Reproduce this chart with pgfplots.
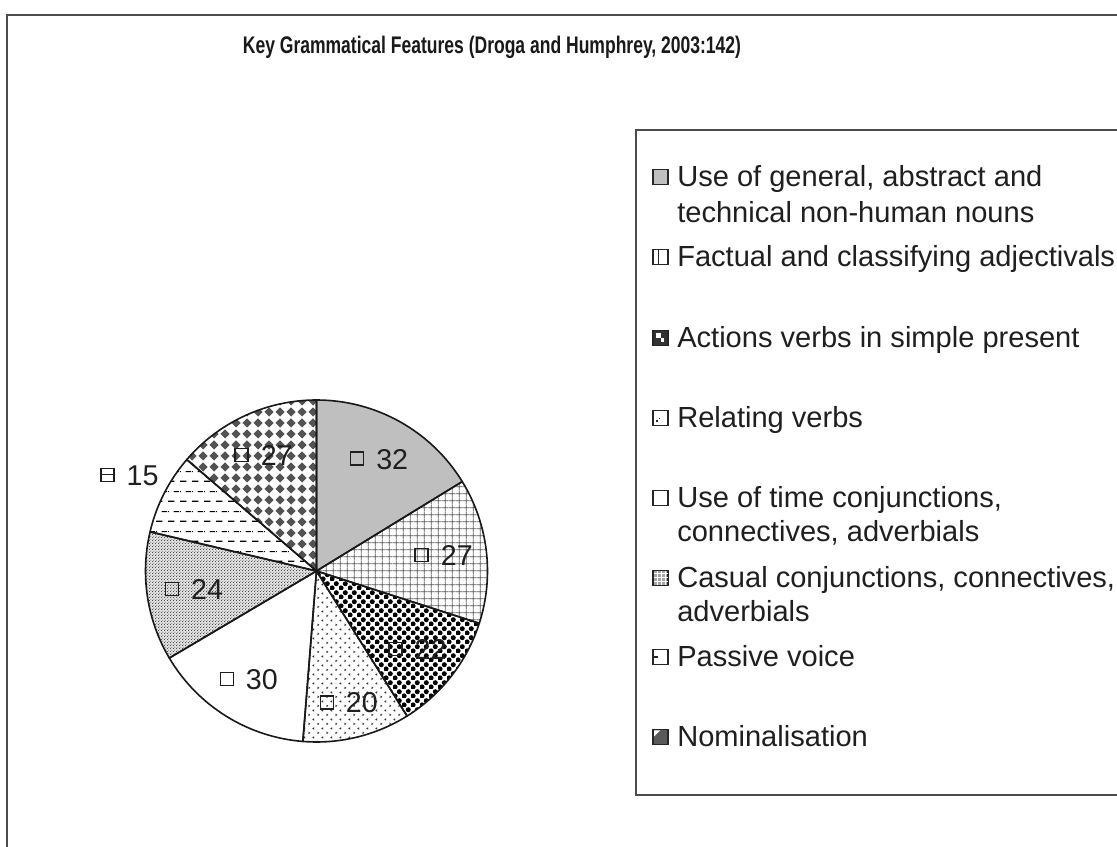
\documentclass[border=0pt]{standalone}
\usepackage{fontspec}
\setmainfont{Liberation Sans}
\newfontfamily\tfont{Liberation Sans}[FakeStretch=0.73]
\usepackage{pgfplots}
\pgfplotsset{compat=1.18}
\usepackage{pgfplotstable}
\usetikzlibrary{patterns}

\pgfdeclarepatternformonly{pgrid}{\pgfqpoint{0pt}{0pt}}{\pgfqpoint{5.4pt}{5.4pt}}{\pgfqpoint{5.4pt}{5.4pt}}{%
 \pgfsetlinewidth{0.75pt}%
 \pgfpathmoveto{\pgfqpoint{0pt}{2.7pt}}\pgfpathlineto{\pgfqpoint{5.4pt}{2.7pt}}%
 \pgfpathmoveto{\pgfqpoint{2.7pt}{0pt}}\pgfpathlineto{\pgfqpoint{2.7pt}{5.4pt}}%
 \pgfusepath{stroke}}
\pgfdeclarepatternformonly{pcirc}{\pgfqpoint{0pt}{0pt}}{\pgfqpoint{6.5pt}{6.5pt}}{\pgfqpoint{6.5pt}{6.5pt}}{%
 \pgfpathcircle{\pgfqpoint{1.625pt}{1.625pt}}{1.95pt}%
 \pgfpathcircle{\pgfqpoint{4.875pt}{4.875pt}}{1.95pt}%
 \pgfusepath{fill}}
\pgfdeclarepatternformonly{pchev}{\pgfqpoint{0pt}{0pt}}{\pgfqpoint{7pt}{7pt}}{\pgfqpoint{7pt}{7pt}}{%
 \pgfsetlinewidth{0.6pt}%
 \pgfpathmoveto{\pgfqpoint{1.2pt}{2.4pt}}\pgfpathlineto{\pgfqpoint{2.2pt}{1.75pt}}\pgfpathlineto{\pgfqpoint{1.2pt}{1.1pt}}%
 \pgfpathmoveto{\pgfqpoint{5.7pt}{5.9pt}}\pgfpathlineto{\pgfqpoint{4.7pt}{5.25pt}}\pgfpathlineto{\pgfqpoint{5.7pt}{4.6pt}}%
 \pgfusepath{stroke}}
\pgfdeclarepatternformonly{pfine}{\pgfqpoint{0pt}{0pt}}{\pgfqpoint{2.4pt}{2.4pt}}{\pgfqpoint{2.4pt}{2.4pt}}{%
 \pgfpathrectangle{\pgfqpoint{0pt}{0pt}}{\pgfqpoint{0.8pt}{0.8pt}}%
 \pgfpathrectangle{\pgfqpoint{1.2pt}{1.2pt}}{\pgfqpoint{0.8pt}{0.8pt}}%
 \pgfusepath{fill}}
\pgfdeclarepatternformonly{pdash}{\pgfqpoint{0pt}{0pt}}{\pgfqpoint{9pt}{15pt}}{\pgfqpoint{9pt}{15pt}}{%
 \pgfsetlinewidth{0.9pt}%
 \pgfpathmoveto{\pgfqpoint{0pt}{3.75pt}}\pgfpathlineto{\pgfqpoint{5.25pt}{3.75pt}}%
 \pgfpathmoveto{\pgfqpoint{4.5pt}{11.25pt}}\pgfpathlineto{\pgfqpoint{9pt}{11.25pt}}%
 \pgfpathmoveto{\pgfqpoint{0pt}{11.25pt}}\pgfpathlineto{\pgfqpoint{0.75pt}{11.25pt}}%
 \pgfusepath{stroke}}
\pgfdeclarepatternformonly{pdiam}{\pgfqpoint{0pt}{0pt}}{\pgfqpoint{8.25pt}{8.25pt}}{\pgfqpoint{8.25pt}{8.25pt}}{%
 \pgfpathmoveto{\pgfqpoint{4.125pt}{0.4pt}}\pgfpathlineto{\pgfqpoint{7.85pt}{4.125pt}}\pgfpathlineto{\pgfqpoint{4.125pt}{7.85pt}}\pgfpathlineto{\pgfqpoint{0.4pt}{4.125pt}}\pgfpathclose
 \pgfusepath{fill}}

\tikzset{
 slice0/.style={fill=black!25},
 slice1/.style={fill=white, postaction={pattern=pgrid, pattern color=black!65}},
 slice2/.style={fill=white, postaction={pattern=pcirc, pattern color=black}},
 slice3/.style={fill=white, postaction={pattern=pchev, pattern color=black!80}},
 slice4/.style={fill=white},
 slice5/.style={fill=black!12, postaction={pattern=pfine, pattern color=black!70}},
 slice6/.style={fill=white, postaction={pattern=pdash, pattern color=black}},
 slice7/.style={fill=white, postaction={pattern=pdiam, pattern color=black!68}},
 lbl/.style={inner sep=0pt, font=\fontsize{21.5}{26}\selectfont, text=black!88},
 legt/.style={anchor=base west, inner sep=0pt, font=\fontsize{21.8}{26}\selectfont, text=black!88},
 sw/.style={line width=1.1pt, draw=black!85},
}
\newcommand\lsq{\raisebox{3.6pt}{\setlength{\fboxsep}{0pt}\setlength{\fboxrule}{1.1pt}\fbox{\rule{0pt}{8.6pt}\rule{8.6pt}{0pt}}}}
\newcommand\lsqb{\raisebox{3.6pt}{\setlength{\fboxsep}{0pt}\setlength{\fboxrule}{1.1pt}\fbox{\rule{0pt}{8.6pt}\rule[4pt]{8.6pt}{1.1pt}}}}

% value and label distance (px) from the centre, icon type
\pgfplotstableread{
val lr ic
32 128 0
27 128 0
22 128 0
20 136 0
30 128 0
24 124 0
15 210 1
27 127 0
}\pietable

\begin{document}
\begin{tikzpicture}
\pgfplotstablegetrowsof{\pietable}
\pgfmathtruncatemacro\nrows{\pgfplotsretval-1}
\gdef\pietotal{0}
\foreach \i in {0,...,\nrows}{%
  \pgfplotstablegetelem{\i}{val}\of\pietable
  \pgfmathsetmacro\t{\pietotal+\pgfplotsretval}\xdef\pietotal{\t}}
\pgfmathsetmacro\degper{360/\pietotal}
\xdef\degper{\degper}
\gdef\piecum{0}
\foreach \i in {0,...,\nrows}{%
  \pgfplotstablegetelem{\i}{val}\of\pietable \let\v\pgfplotsretval
  \pgfmathsetmacro\sa{90-\degper*\piecum}%
  \pgfmathsetmacro\c{\piecum+\v}\xdef\piecum{\c}%
  \pgfmathsetmacro\ea{90-\degper*\piecum}%
  \pgfmathsetmacro\ma{(\sa+\ea)/2}%
  \expandafter\xdef\csname pieS\i\endcsname{\sa}%
  \expandafter\xdef\csname pieE\i\endcsname{\ea}%
  \expandafter\xdef\csname pieM\i\endcsname{\ma}%
  \expandafter\xdef\csname pieV\i\endcsname{\v}%
  \pgfplotstablegetelem{\i}{lr}\of\pietable
  \pgfmathsetmacro\r{\pgfplotsretval*0.75}%
  \expandafter\xdef\csname pieR\i\endcsname{\r}%
  \pgfplotstablegetelem{\i}{ic}\of\pietable
  \expandafter\xdef\csname pieI\i\endcsname{\pgfplotsretval}%
}
\begin{axis}[name=ax, at={(0,0)}, anchor=south west,
  width=837.75pt, height=634.5pt, scale only axis,
  xmin=0, xmax=1117, ymin=0, ymax=846, hide axis, clip=false]
\fill[white] (axis cs:0,0) rectangle (axis cs:1117,846);
% outer frame
\draw[line width=1.1pt, black!70] (axis cs:7,-5) -- (axis cs:7,831) -- (axis cs:1130,831);
% title
\node[anchor=base, inner sep=0pt, text=black!90] at (axis cs:492,792)
  {\tfont\bfseries\fontsize{18}{22}\selectfont Key Grammatical Features (Droga and Humphrey, 2003:142)};
% pie slices
\pgfplotsinvokeforeach{0,...,7}{%
  \edef\temp{\noexpand\fill[slice#1] (axis cs:316.5,275) -- ++(\csname pieS#1\endcsname:128.25pt)
    arc[start angle=\csname pieS#1\endcsname, end angle=\csname pieE#1\endcsname, radius=128.25pt] -- cycle;}\temp
}
\pgfplotsinvokeforeach{0,...,7}{%
  \edef\temp{\noexpand\draw[line width=1.2pt, black!90, line join=round] (axis cs:316.5,275) -- ++(\csname pieS#1\endcsname:128.25pt)
    arc[start angle=\csname pieS#1\endcsname, end angle=\csname pieE#1\endcsname, radius=128.25pt] -- cycle;}\temp
}
% data labels
\pgfplotsinvokeforeach{0,...,7}{%
  \edef\temp{\noexpand\node[lbl] at ([shift={(\csname pieM#1\endcsname:\csname pieR#1\endcsname pt)}]axis cs:316.5,275)
    {\ifnum\csname pieI#1\endcsname=1 \noexpand\lsqb\else\noexpand\lsq\fi\noexpand\hspace{9pt}\csname pieV#1\endcsname};}\temp
}
% legend box
\draw[line width=1.1pt, black!70] (axis cs:1130,51) -- (axis cs:636,51) -- (axis cs:636,716) -- (axis cs:1130,716);
% legend swatches (centres at 846 - y_px)
\filldraw[sw, fill=black!25] (axis cs:653,661.5) rectangle (axis cs:668,676.5);
\filldraw[sw, fill=white] (axis cs:653,581.5) rectangle (axis cs:668,596.5);
\draw[line width=1.1pt, black!85] (axis cs:658.5,581.5) -- (axis cs:658.5,596.5);
\filldraw[sw, fill=black!80] (axis cs:653,500.5) rectangle (axis cs:668,515.5);
\fill[white] (axis cs:656,508) rectangle (axis cs:660.5,512.5);
\fill[white] (axis cs:660.5,503.5) rectangle (axis cs:664,507.5);
\filldraw[sw, fill=white] (axis cs:653,420.5) rectangle (axis cs:668,435.5);
\fill[black!85] (axis cs:655.5,423.5) rectangle (axis cs:657.5,425.5);
\fill[black!85] (axis cs:658.5,426.5) rectangle (axis cs:660,428);
\filldraw[sw, fill=white] (axis cs:653,340.5) rectangle (axis cs:668,355.5);
\filldraw[sw, fill=black!35] (axis cs:653,260.5) rectangle (axis cs:668,275.5);
\draw[line width=0.4pt, white] (axis cs:657,261) -- (axis cs:657,275) (axis cs:661,261) -- (axis cs:661,275) (axis cs:665,261) -- (axis cs:665,275)
  (axis cs:653.5,264.5) -- (axis cs:667.5,264.5) (axis cs:653.5,268.5) -- (axis cs:667.5,268.5) (axis cs:653.5,272.5) -- (axis cs:667.5,272.5);
\filldraw[sw, fill=white] (axis cs:653,181.5) rectangle (axis cs:668,196.5);
\draw[line width=1.1pt, black!85] (axis cs:653,189) -- (axis cs:658,189);
\filldraw[sw, fill=black!65] (axis cs:653,101.5) rectangle (axis cs:668,116.5);
\fill[white] (axis cs:654,115.5) -- (axis cs:660,115.5) -- (axis cs:654,109.5) -- cycle;
% legend texts (baselines at 846 - y_px)
\node[legt] at (axis cs:677,659) {Use of general, abstract and};
\node[legt] at (axis cs:677,623) {technical non-human nouns};
\node[legt] at (axis cs:677,579) {Factual and classifying adjectivals};
\node[legt] at (axis cs:677,498) {Actions verbs in simple present};
\node[legt] at (axis cs:677,418) {Relating verbs};
\node[legt] at (axis cs:677,338) {Use of time conjunctions,};
\node[legt] at (axis cs:677,304) {connectives, adverbials};
\node[legt] at (axis cs:677,258) {Casual conjunctions, connectives,};
\node[legt] at (axis cs:677,224) {adverbials};
\node[legt] at (axis cs:677,179) {Passive voice};
\node[legt] at (axis cs:677,99) {Nominalisation};
\end{axis}
\pgfresetboundingbox
\path[use as bounding box] (ax.south west) rectangle (ax.north east);
\end{tikzpicture}
\end{document}
